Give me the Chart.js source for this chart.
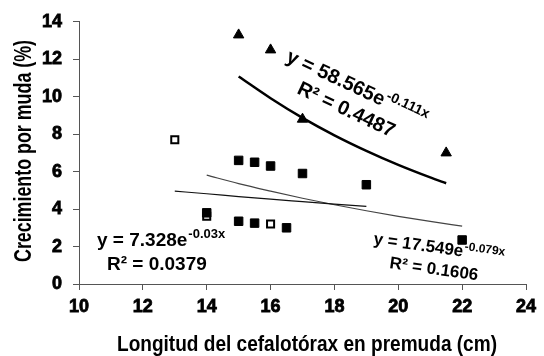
<!DOCTYPE html>
<html>
<head>
<meta charset="utf-8">
<script src="https://cdn.jsdelivr.net/npm/chart.js@4"></script>
<style>
  body { margin: 0; background: #fff; }
  canvas { display: block; }
</style>
</head>
<body>
<canvas id="molt" width="544" height="356"></canvas>
<script>
// data
const triX = [15, 16, 17, 21.5];
const triY = [13.3, 12.5, 8.8, 7.0];
const sqX = [14, 15, 15.5, 16, 17, 15, 15.5, 16.5, 19, 22];
const sqY = [3.8, 6.6, 6.5, 6.3, 5.9, 3.35, 3.25, 3.0, 5.3, 2.35];
const openX = [13, 14, 16];
const openY = [7.7, 3.62, 3.2];

// trend curves
const fitAX = [15, 16, 17, 18, 19, 20, 21, 21.5];
const fitAY = [11.08, 9.92, 8.87, 7.94, 7.11, 6.36, 5.69, 5.38];
const fitBX = [13, 14, 15, 16, 17, 18, 19];
const fitBY = [4.96, 4.82, 4.67, 4.53, 4.40, 4.27, 4.14];
const fitCX = [14, 15, 16, 17, 18, 19, 20, 21, 22];
const fitCY = [5.81, 5.36, 4.96, 4.58, 4.23, 3.91, 3.61, 3.34, 3.09];

const xTicks = [10, 12, 14, 16, 18, 20, 22, 24];
const yTicks = [0, 2, 4, 6, 8, 10, 12, 14];

const xTitle = "Longitud del cefalotórax en premuda (cm)";
const yTitle = "Crecimiento por muda (%)";

const FONT = "Liberation Sans, Arial, sans-serif";

function pts(xs, ys) {
    return xs.map((x, i) => ({ x: x, y: ys[i] }));
}

// equation text, with the exponent raised
function drawEq(ctx, x, y, angle, size, main, sup) {
    ctx.save();
    ctx.translate(x, y);
    ctx.rotate(angle * Math.PI / 180);
    ctx.fillStyle = "#000";
    ctx.textBaseline = "alphabetic";
    ctx.textAlign = "left";
    ctx.font = "bold " + size + "px " + FONT;
    ctx.fillText(main, 0, 0);
    if (sup) {
        const w = ctx.measureText(main).width;
        ctx.font = "bold " + Math.round(size * 0.68) + "px " + FONT;
        ctx.fillText(sup, w + 1, -size * 0.4);
    }
    ctx.restore();
}

// squeezed title text to fit a span
function drawFit(ctx, text, cx, cy, span, size, rot) {
    ctx.save();
    ctx.translate(cx, cy);
    ctx.rotate(rot);
    ctx.font = "bold " + size + "px " + FONT;
    const w = ctx.measureText(text).width;
    ctx.scale(span / w, 1);
    ctx.fillStyle = "#000";
    ctx.textAlign = "center";
    ctx.textBaseline = "alphabetic";
    ctx.fillText(text, 0, 0);
    ctx.restore();
}

const textPlugin = {
    id: "eqText",
    afterDraw(chart) {
        const ctx = chart.ctx;
        drawEq(ctx, 285, 61, 25, 20, "y = 58.565e", "-0.111x");
        drawEq(ctx, 296, 93, 25, 20, "R² = 0.4487", null);
        drawEq(ctx, 373, 244, 8, 17, "y = 17.549e", "-0.079x");
        drawEq(ctx, 389, 268, 8, 17, "R² = 0.1606", null);
        drawEq(ctx, 97, 246, 0, 19, "y = 7.328e", "-0.03x");
        drawEq(ctx, 107, 270, 0, 19, "R² = 0.0379", null);

        drawFit(ctx, xTitle, 307, 351, 380, 22, 0);
        drawFit(ctx, yTitle, 31, 151, 222, 23, -Math.PI / 2);
    }
};

new Chart("molt", {
    type: "scatter",
    data: {
        datasets: [
            {
                data: pts(triX, triY),
                pointStyle: "triangle",
                pointRadius: 6,
                backgroundColor: "#000",
                borderColor: "#000",
                borderWidth: 1
            },
            {
                data: pts(sqX, sqY),
                pointStyle: "rect",
                pointRadius: 6,
                backgroundColor: "#000",
                borderColor: "#000",
                borderWidth: 1
            },
            {
                data: pts(openX, openY),
                pointStyle: "rect",
                pointRadius: 5,
                backgroundColor: "#fff",
                borderColor: "#000",
                borderWidth: 2
            },
            {
                data: pts(fitAX, fitAY),
                showLine: true,
                pointRadius: 0,
                borderColor: "#000",
                borderWidth: 2.5,
                cubicInterpolationMode: "monotone"
            },
            {
                data: pts(fitBX, fitBY),
                showLine: true,
                pointRadius: 0,
                borderColor: "#111",
                borderWidth: 1.2,
                cubicInterpolationMode: "monotone"
            },
            {
                data: pts(fitCX, fitCY),
                showLine: true,
                pointRadius: 0,
                borderColor: "#444",
                borderWidth: 1.2,
                cubicInterpolationMode: "monotone"
            }
        ]
    },
    options: {
        responsive: false,
        animation: false,
        devicePixelRatio: 1,
        layout: { padding: { left: 0, right: 18, top: 18, bottom: 0 } },
        plugins: {
            legend: { display: false },
            tooltip: { enabled: false }
        },
        scales: {
            x: {
                min: 10,
                max: 24,
                afterBuildTicks: (s) => { s.ticks = xTicks.map(v => ({ value: v })); },
                afterFit: (s) => { s.height = 72; },
                grid: { drawOnChartArea: false, tickLength: 6, color: "#555" },
                border: { color: "#555" },
                ticks: {
                    color: "#000", padding: 6,
                    textStrokeColor: "#000", textStrokeWidth: 0.8,
                    font: { family: FONT, size: 18, weight: "bold" }
                }
            },
            y: {
                min: 0,
                max: 14,
                afterBuildTicks: (s) => { s.ticks = yTicks.map(v => ({ value: v })); },
                afterFit: (s) => { s.width = 79; },
                grid: { drawOnChartArea: false, tickLength: 6, color: "#555" },
                border: { color: "#555" },
                ticks: {
                    color: "#000", padding: 11,
                    textStrokeColor: "#000", textStrokeWidth: 0.8,
                    font: { family: FONT, size: 18, weight: "bold" }
                }
            }
        }
    },
    plugins: [textPlugin]
});
</script>
</body>
</html>
